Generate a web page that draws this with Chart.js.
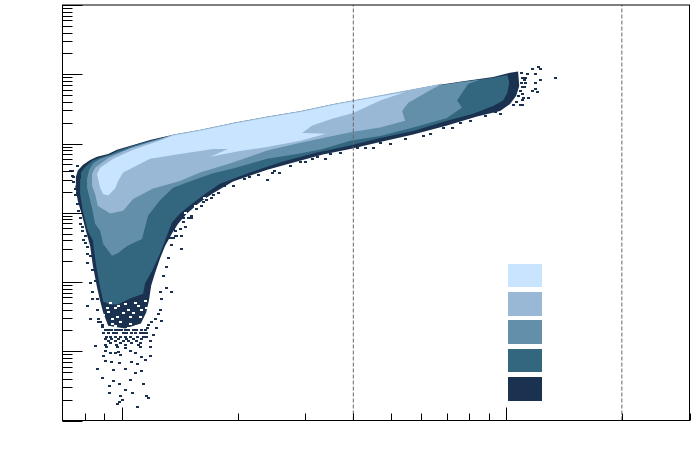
<!DOCTYPE html>
<html>
<head>
<meta charset="utf-8">
<style>
    body { margin: 0; background: #fff; }
    canvas { display: block; }
</style>
<script src="https://cdn.jsdelivr.net/npm/chart.js@4"></script>
</head>
<body>
<canvas id="chart" width="696" height="472"></canvas>
<script>
// Values as log10(x) / log10(y)
const levelColors = ['#c9e4ff', '#98b8d5', '#648fab', '#33667f', '#1a3150'];

const level1LogX = [-.065,-.057,-.023,.029,.099,.133,.203,.289,.378,.464,.549,.638,.737,.672,.602,.549,.495,.469,.531,.464,.378,.307,.229,.276,.237,.151,.073,.003,-.010,-.018,-.036,-.049,-.057];
const level1LogY = [.56,.65,.78,.91,1.045,1.115,1.185,1.285,1.375,1.455,1.555,1.645,1.745,1.62,1.44,1.36,1.26,1.15,1.14,1.04,.95,.89,.81,.92,.92,.85,.78,.58,.46,.35,.25,.27,.36];

const level2LogX = [-.078,-.078,-.070,-.036,.021,.099,.133,.203,.289,.378,.464,.549,.638,.724,.802,.836,.802,.745,.729,.737,.672,.602,.523,.456,.378,.281,.203,.151,.081,.029,.003,-.031,-.063,-.070,-.078];
const level2LogY = [.49,.56,.65,.79,.93,1.06,1.13,1.20,1.30,1.39,1.47,1.57,1.66,1.75,1.83,1.87,1.77,1.59,1.47,1.33,1.23,1.17,1.08,1.00,.90,.71,.58,.46,.35,.20,.03,-.01,.10,.27,.39];

const level3LogX = [-.091,-.086,-.076,-.057,-.036,-.005,.029,.073,.133,.203,.289,.378,.464,.549,.638,.724,.802,.888,.932,.901,.885,.872,.885,.846,.758,.672,.594,.523,.456,.378,.289,.237,.185,.133,.099,.068,.052,.013,-.010,-.026,-.049,-.057,-.070,-.078,-.091];
const level3LogY = [.49,.61,.71,.78,.82,.88,.95,1.03,1.12,1.19,1.29,1.38,1.46,1.56,1.65,1.74,1.82,1.89,1.92,1.86,1.73,1.62,1.52,1.37,1.23,1.11,1.04,.92,.85,.78,.64,.57,.47,.36,.18,-.04,-.38,-.48,-.58,-.62,-.45,-.26,-.16,.07,.36];

const level4LogX = [-.109,-.107,-.096,-.078,-.060,-.031,-.010,.029,.073,.133,.203,.289,.378,.464,.549,.638,.724,.802,.888,.966,1.003,1.008,1.003,.992,.966,.914,.846,.758,.672,.594,.508,.419,.333,.255,.216,.182,.151,.130,.117,.099,.078,.060,.055,.021,-.010,-.031,-.049,-.057,-.068,-.076,-.089,-.102,-.109];
const level4LogY = [.49,.58,.66,.75,.79,.84,.90,.97,1.04,1.12,1.19,1.29,1.38,1.46,1.56,1.65,1.74,1.82,1.89,1.95,1.99,1.88,1.73,1.62,1.54,1.43,1.33,1.18,1.08,.97,.87,.74,.58,.42,.27,.13,-.01,-.14,-.33,-.59,-.84,-1.02,-1.17,-1.24,-1.32,-1.33,-1.28,-1.08,-.74,-.40,-.26,.03,.27];

const level5LogX = [-.122,-.120,-.115,-.102,-.083,-.065,-.036,-.013,.029,.073,.133,.203,.289,.378,.464,.549,.638,.724,.802,.888,.966,1.010,1.031,1.034,1.026,1.010,.984,.924,.846,.758,.672,.594,.523,.456,.378,.289,.237,.203,.169,.146,.130,.120,.112,.099,.086,.076,.070,.063,.049,.008,-.036,-.049,-.057,-.065,-.076,-.083,-.094,-.104,-.115];
const level5LogY = [.39,.52,.61,.69,.76,.81,.85,.91,.98,1.05,1.125,1.195,1.295,1.385,1.465,1.565,1.655,1.745,1.825,1.90,1.96,2.02,2.04,1.83,1.69,1.57,1.47,1.39,1.26,1.13,1.02,.92,.84,.74,.62,.45,.28,.15,-.01,-.16,-.30,-.40,-.48,-.66,-.87,-1.05,-1.27,-1.44,-1.60,-1.67,-1.63,-1.44,-1.27,-1.08,-.76,-.48,-.26,-.04,.17];

// empty bins inside the sparse part of the darkest band
const emptyLogX = [-.031,-.010,-.039,.008,.034,.042,-.018,.016,.060,-.036,.003,.029,.052,-.049,-.013,.021,.047,-.026,.065,-.044,-.018,.016,.039,-.005,.021,-.026,.164,.190,.216];
const emptyLogY = [-1.30,-1.34,-1.37,-1.32,-1.30,-1.34,-1.38,-1.40,-1.27,-1.44,-1.45,-1.45,-1.41,-1.48,-1.51,-1.51,-1.51,-1.53,-1.37,-1.66,-1.63,-1.67,-1.63,-1.58,-1.60,-1.60,-.01,.10,.22];

// isolated low-count cells around the main body
const sparseLogX = [
    -.044,-.036,-.027,-.018,-.010,-.001,.008,.016,.030,.038,.051,.060,
    -.049,-.036,-.023,-.014,.003,.012,.025,.034,.047,.064,
    -.040,-.031,-.018,-.005,.008,.021,.040,.056,
    -.044,-.027,-.010,.012,.030,.051,
    -.036,-.018,.003,.016,.038,.073,
    -.031,-.005,.025,.047,
    -.044,-.014,.008,.043,
    -.060,-.056,-.052,.077,.086,.069,.066,
    -.068,-.040,-.012,.010,.047,.075,-.044,-.030,-.010,.021,-.049,-.018,-.005,.034,.051,.073,
    -.044,-.027,-.007,.025,.060,-.064,-.023,.010,.040,.036,.051,-.050,-.023,-.007,.023,.057,
    -.033,-.033,.010,.028,-.003,.063,.069,.001,-.007,-.012,.040,
    -.130,-.125,-.122,-.120,-.115,-.112,-.109,-.102,-.096,-.115,-.135,-.099,-.091,-.089,-.089,-.083,-.076,-.076,-.089,-.081,-.060,-.052,-.065,
    -.117,-.125,-.128,-.107,-.104,-.094,-.083,-.078,-.070,-.065,
    .138,.156,.133,.156,.130,.120,.117,.107,.117,.128,.099,.104,.099,.094,.104,.089,.081,.055,.065,
    .159,.182,.195,.211,.237,.143,.133,.320,.378,.391,.411,.464,.497,.529,.542,.612,.654,.672,.784,.836,.880,.971,.984,
    .208,.221,.234,.250,.268,.289,.172,.182,.159,.151,.138,.164,.125,
    .398,.438,.477,.510,.568,.633,.698,.737,.802,.859,.906,.945,.333,.354,
    1.018,1.042,1.044,1.057,1.081,1.068,1.076,1.089,1.076,1.128,1.083,1.068,1.089,1.076,1.055,1.049,1.049,1.042,
    1.039,1.042,1.047,1.039,1.047,1.036,1.042,1.031,1.042,1.026,1.036
];
const sparseLogY = [
    -1.70,-1.70,-1.70,-1.70,-1.70,-1.70,-1.70,-1.70,-1.70,-1.70,-1.70,-1.70,
    -1.74,-1.74,-1.74,-1.74,-1.74,-1.74,-1.74,-1.74,-1.74,-1.74,
    -1.79,-1.79,-1.79,-1.79,-1.79,-1.79,-1.79,-1.79,
    -1.82,-1.82,-1.82,-1.82,-1.82,-1.82,
    -1.85,-1.85,-1.85,-1.85,-1.85,-1.85,
    -1.88,-1.88,-1.88,-1.88,
    -1.91,-1.91,-1.91,-1.91,
    -1.53,-1.58,-1.62,-1.58,-1.53,-1.62,-1.67,
    -1.93,-1.94,-1.94,-1.95,-1.94,-1.94,-1.99,-2.02,-2.01,-1.99,-2.07,-2.02,-2.06,-2.02,-2.08,-2.07,
    -2.14,-2.15,-2.17,-2.15,-2.13,-2.25,-2.27,-2.25,-2.19,-2.32,-2.29,-2.38,-2.43,-2.47,-2.41,-2.48,
    -2.50,-2.60,-2.56,-2.60,-2.65,-2.65,-2.68,-2.70,-2.73,-2.76,-2.81,
    .53,.44,.35,.25,.13,.03,-.16,-.26,-.34,.68,.61,-.40,-.50,-.59,-.72,-1.01,-1.15,-1.24,-1.34,-1.54,-1.58,-1.65,-1.41,
    .29,.52,.60,-.07,-.20,-.44,-.62,-.83,-.98,-1.24,
    -.27,-.34,-.37,-.52,-.47,-.66,-.79,-.91,-1.08,-1.15,-1.15,-1.24,-1.40,-1.46,-1.57,-1.67,-1.76,-1.73,-1.80,
    -.08,-.04,.06,.15,.25,-.33,-.23,.49,.48,.58,.58,.73,.77,.77,.85,.94,.94,1.01,1.11,1.23,1.29,1.45,1.43,
    .10,.18,.21,.29,.39,.39,-.07,-.08,-.14,-.23,-.33,-.21,-.37,
    .61,.67,.74,.80,.87,.93,1.00,1.07,1.14,1.22,1.33,1.39,.52,.55,
    1.55,1.55,1.65,1.66,1.74,1.76,1.79,1.91,1.88,1.95,2.10,2.08,2.08,2.00,2.01,1.94,1.87,1.82,
    2.02,1.95,1.91,1.87,1.81,1.76,1.72,1.68,1.63,1.60,1.56
];

const dashedX = [4, 20];
const xMin = 0.7;
const xMax = 30;
const xMajorTicks = [1, 10];
const xMinorTicks = [0.8, 0.9, 2, 3, 4, 5, 6, 7, 8, 9, 20, 30];
const yDecades = [-3, -2, -1, 0, 1, 2, 3];
const yMantissas = [2, 3, 4, 5, 6, 7, 8, 9];

const toPoints = (logX, logY) => logX.map((e, i) => ({ x: Math.pow(10, e), y: Math.pow(10, logY[i]) }));

const levelDataset = (logX, logY, color, order) => ({
    data: toPoints(logX, logY),
    showLine: true,
    fill: 'shape',
    backgroundColor: color,
    borderWidth: 0,
    pointRadius: 0,
    tension: 0,
    order: order
});

const dashedDataset = (value) => ({
    data: [{ x: value, y: Math.pow(10, yDecades[0]) }, { x: value, y: Math.pow(10, yDecades[yDecades.length - 1]) }],
    showLine: true,
    borderColor: '#666666',
    borderWidth: 1,
    borderDash: [4, 2],
    pointRadius: 0,
    order: 0
});

// one histogram cell, used as point style
const makeCell = (color) => {
    const cell = document.createElement('canvas');
    cell.width = 3;
    cell.height = 2;
    const cellCtx = cell.getContext('2d');
    cellCtx.fillStyle = color;
    cellCtx.fillRect(0, 0, 3, 2);
    return cell;
};

const framePlugin = {
    id: 'frame',
    beforeDatasetsDraw(chart) {
        chart.ctx.imageSmoothingEnabled = false;
    },
    afterDraw(chart) {
        const { ctx, chartArea: area, scales: { x, y } } = chart;
        ctx.save();
        ctx.strokeStyle = '#000';
        ctx.lineWidth = 1;
        ctx.strokeRect(area.left, area.top, area.right - area.left, area.bottom - area.top);

        const xTick = (value, len) => {
            const px = Math.round(x.getPixelForValue(value)) + 0.5;
            ctx.beginPath();
            ctx.moveTo(px, area.bottom);
            ctx.lineTo(px, area.bottom - len);
            ctx.stroke();
        };
        const yTick = (value, len) => {
            const py = Math.round(y.getPixelForValue(value)) + 0.5;
            ctx.beginPath();
            ctx.moveTo(area.left, py);
            ctx.lineTo(area.left + len, py);
            ctx.stroke();
        };
        xMajorTicks.forEach(v => xTick(v, 13));
        xMinorTicks.forEach(v => xTick(v, 7));
        yDecades.forEach((d, i) => {
            yTick(Math.pow(10, d), 20);
            if (i < yDecades.length - 1) {
                yMantissas.forEach(m => yTick(m * Math.pow(10, d), 10));
            }
        });

        // colour key
        const keyTops = [264, 292, 320, 349, 377];
        const keyHeights = [23, 24, 24, 23, 24];
        levelColors.forEach((color, i) => {
            ctx.fillStyle = color;
            ctx.fillRect(508, keyTops[i], 34, keyHeights[i]);
        });
        ctx.restore();
    }
};

new Chart(document.getElementById('chart').getContext('2d'), {
    type: 'scatter',
    data: {
        datasets: [
            dashedDataset(dashedX[0]),
            dashedDataset(dashedX[1]),
            {
                data: toPoints(sparseLogX, sparseLogY),
                pointStyle: makeCell(levelColors[4]),
                pointRadius: 1,
                order: 1
            },
            {
                data: toPoints(emptyLogX, emptyLogY),
                pointStyle: makeCell('#ffffff'),
                pointRadius: 1,
                order: 2
            },
            levelDataset(level1LogX, level1LogY, levelColors[0], 3),
            levelDataset(level2LogX, level2LogY, levelColors[1], 4),
            levelDataset(level3LogX, level3LogY, levelColors[2], 5),
            levelDataset(level4LogX, level4LogY, levelColors[3], 6),
            levelDataset(level5LogX, level5LogY, levelColors[4], 7)
        ]
    },
    options: {
        responsive: false,
        animation: false,
        layout: { padding: { left: 62.5, top: 4.5, right: 6.5, bottom: 51.5 } },
        plugins: { legend: { display: false }, tooltip: { enabled: false } },
        scales: {
            x: {
                type: 'logarithmic',
                min: xMin,
                max: xMax,
                ticks: { display: false },
                grid: { display: false, drawTicks: false },
                border: { display: false }
            },
            y: {
                type: 'logarithmic',
                min: Math.pow(10, yDecades[0]),
                max: Math.pow(10, yDecades[yDecades.length - 1]),
                ticks: { display: false },
                grid: { display: false, drawTicks: false },
                border: { display: false }
            }
        }
    },
    plugins: [framePlugin]
});
</script>
</body>
</html>
